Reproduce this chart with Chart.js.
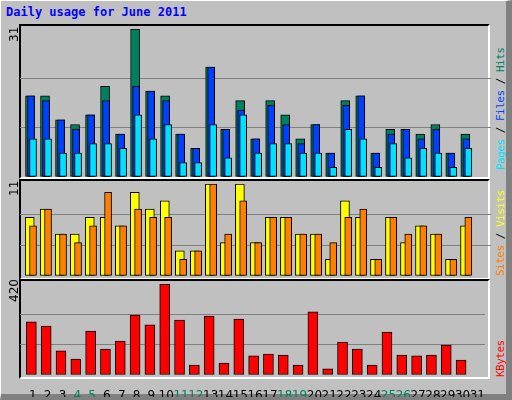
<!DOCTYPE html>
<html><head><meta charset="utf-8">
<script src="https://cdn.jsdelivr.net/npm/chart.js@4"></script>
<style>
html,body{margin:0;padding:0;background:#c0c0c0;}
#frame{position:absolute;left:0;top:0;width:505px;height:393px;background:#c0c0c0;border-left:1px solid #fff;border-top:1px solid #fff;border-right:6px solid #808080;border-bottom:6px solid #808080;box-shadow:1px 1px 0 #000;}
.panel{position:absolute;left:19px;width:471px;border-top:2px solid #000;border-left:2px solid #000;border-right:2px solid #fff;border-bottom:2px solid #fff;box-sizing:border-box;}
canvas{position:absolute;}
.title{position:absolute;left:6px;top:5px;font:bold 12px "DejaVu Sans Mono",monospace;color:#0000ff;}
.ylab{position:absolute;font:12px "DejaVu Sans",sans-serif;color:#000;transform:rotate(-90deg);transform-origin:left top;}
.rlab{position:absolute;font:11px "DejaVu Sans Mono",monospace;transform:rotate(-90deg);transform-origin:left top;white-space:nowrap;letter-spacing:-0.5px;}
</style></head><body>
<div id="frame"></div>
<div class="title">Daily usage for June 2011</div>
<div class="panel" style="top:24px;height:155px"></div>
<div class="panel" style="top:179px;height:101px"></div>
<div class="panel" style="top:279px;height:100px"></div>
<canvas id="c1" width="471" height="148" style="left:20px;top:29px"></canvas>
<canvas id="c2" width="471" height="92" style="left:20px;top:184px"></canvas>
<canvas id="c3" width="471" height="113" style="left:20px;top:284px"></canvas>
<div class="ylab" style="left:7px;top:42px">31</div>
<div class="ylab" style="left:7px;top:196px">11</div>
<div class="ylab" style="left:7px;top:302px">420</div>
<div class="rlab" style="left:494px;top:170px"><span style="color:#00e0ff">Pages</span> / <span style="color:#0040ff">Files</span> / <span style="color:#00805c">Hits</span></div>
<div class="rlab" style="left:494px;top:276px"><span style="color:#ff8000">Sites</span> / <span style="color:#ffff00">Visits</span></div>
<div class="rlab" style="left:494px;top:377px"><span style="color:#ff0000">KBytes</span></div>
<script>
const days = Array.from({length:31},(_, i)=>i+1);
const weekend = [4,5,11,12,18,19,25,26];
const hits   = [17,17,12,11,13,19,9,31,18,17,9,6,23,10,16,8,16,13,8,11,5,16,17,5,10,10,9,11,5,9,0];
const files  = [17,16,12,10,13,16,9,19,18,16,9,6,23,10,14,8,15,11,7,11,5,15,17,5,9,10,8,10,5,8,0];
const pages  = [8,8,5,5,7,7,6,13,8,11,3,3,11,4,13,5,7,7,5,5,2,10,8,2,7,4,6,5,2,6,0];
const visits = [7,8,5,5,7,7,6,10,8,9,3,3,11,4,11,4,7,7,5,5,2,9,7,2,7,4,6,5,2,6,0];
const sites  = [6,8,5,4,6,10,6,8,7,7,2,3,11,5,9,4,7,7,5,5,4,7,8,2,7,5,6,5,2,7,0];
const kbytes = [245,226,111,74,203,120,157,277,231,420,254,46,272,55,258,88,97,92,46,291,28,152,120,46,198,92,88,92,138,69,0];
const maxTop=31, maxMid=11, maxBot=420;
const XMIN=0.133, XMAX=31.51;

function ser(arr, off){ return arr.map((v,i)=>({x:days[i]+off,y:v})).filter(p=>p.y>0); }
function ds(label,arr,off,color,w,order){
  return {label,data:ser(arr,off),backgroundColor:color,borderColor:'#000',borderWidth:1,barThickness:w,grouped:false,order,borderSkipped:false};
}
function yScale(max){
  return {min:0,max:max,display:true,
    afterBuildTicks:s=>{s.ticks=[0,max/3,2*max/3,max].map(v=>({value:v}));},
    afterFit:s=>{s.width=0;},
    ticks:{display:false},border:{display:false},
    grid:{drawTicks:false,lineWidth:1,color:c=>(c.tick&&(c.tick.value===0||c.tick.value===max))?'rgba(0,0,0,0)':'#808080'}};
}
const hiddenX={type:'linear',min:XMIN,max:XMAX,offset:false,display:false};
const base={responsive:false,animation:false,events:[],layout:{padding:0},
  plugins:{legend:{display:false},tooltip:{enabled:false}}};

new Chart(document.getElementById('c1'),{type:'bar',
  data:{datasets:[ds('Hits',hits,-0.2,'#00805c',9,3),ds('Files',files,-0.133,'#0040ff',7,2),ds('Pages',pages,0,'#00e0ff',7,1)]},
  options:{...base,scales:{x:hiddenX,y:yScale(maxTop)}}});

new Chart(document.getElementById('c2'),{type:'bar',
  data:{datasets:[ds('Visits',visits,-0.22,'#ffff00',9,2),ds('Sites',sites,0,'#ff8000',7,1)]},
  options:{...base,scales:{x:hiddenX,y:yScale(maxMid)}}});

new Chart(document.getElementById('c3'),{type:'bar',
  data:{datasets:[ds('KBytes',kbytes,-0.1,'#ff0000',10,1)]},
  options:{...base,scales:{
    x:{type:'linear',min:XMIN,max:XMAX,offset:false,
      afterBuildTicks:s=>{s.ticks=days.map(v=>({value:v}));},
      afterFit:s=>{s.height=22;},
      grid:{display:false},border:{display:false},
      ticks:{autoSkip:false,maxRotation:0,padding:6,font:{family:'DejaVu Sans',size:12},
        color:c=>weekend.includes(c.tick.value)?'#00805c':'#000',
        callback:v=>String(v)}},
    y:yScale(maxBot)}}});
</script>
</body></html>
